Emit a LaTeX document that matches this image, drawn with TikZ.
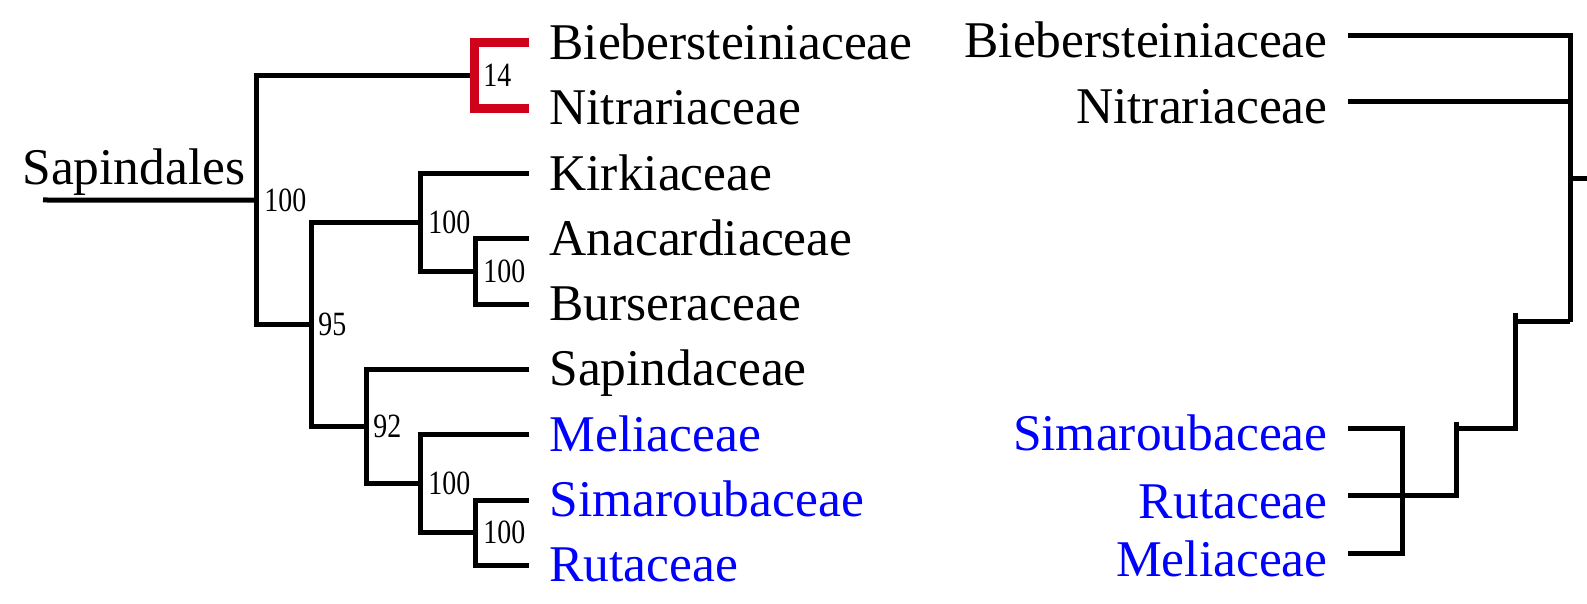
\documentclass[tikz,border=0pt]{standalone}
\usepackage{fontspec}
\setmainfont{Liberation Serif}
\newfontfamily\suppfont[FakeStretch=0.82]{Liberation Serif}
\usetikzlibrary{positioning}
\definecolor{treered}{HTML}{D0021B}
\definecolor{treeblue}{HTML}{0000FF}

\begin{document}
\begin{tikzpicture}[x=0.5pt, y=-0.5pt,
      font=\fontsize{25.75}{30}\selectfont,
      branch/.style={line width=2.5pt},
      redbranch/.style={line width=4.5pt, treered},
      leafL/.style={anchor=west, inner xsep=10pt, inner ysep=0pt, text height=20pt, text depth=3.5pt},
      leafR/.style={anchor=east, inner xsep=10pt, inner ysep=0pt, text height=25.5pt, text depth=3.5pt},
      supp/.style={font=\suppfont\fontsize{17}{17}\selectfont, inner sep=0pt}]

      \useasboundingbox (0,0) rectangle (1587,604);

      % Rows of the left tree
      \def\rowtop{43}     % first leaf
      \def\rowgap{65.3}   % leaf spacing

      % Leaves (left)
      \node[leafL] (Bieb) at (529,{\rowtop}) {Biebersteiniaceae};
      \node[leafL] (Nitr) at (529,{\rowtop+\rowgap}) {Nitrariaceae};
      \node[leafL] (Kirk) at (529,{\rowtop+2*\rowgap}) {Kirkiaceae};
      \node[leafL] (Anac) at (529,{\rowtop+3*\rowgap}) {Anacardiaceae};
      \node[leafL] (Burs) at (529,{\rowtop+4*\rowgap}) {Burseraceae};
      \node[leafL] (Sapi) at (529,{\rowtop+5*\rowgap}) {Sapindaceae};
      \node[leafL, treeblue] (Meli) at (529,{\rowtop+6*\rowgap}) {Meliaceae};
      \node[leafL, treeblue] (Sima) at (529,{\rowtop+7*\rowgap}) {Simaroubaceae};
      \node[leafL, treeblue] (Ruta) at (529,{\rowtop+8*\rowgap}) {Rutaceae};

      % Internal nodes (left)
      \coordinate (n0)  at (256,{\rowtop+2.40625*\rowgap});
      \coordinate (nBN) at (474,{\rowtop+0.5*\rowgap});
      \coordinate (n2)  at (311,{\rowtop+4.3125*\rowgap});
      \coordinate (nK)  at (420,{\rowtop+2.75*\rowgap});
      \coordinate (nAB) at (475,{\rowtop+3.5*\rowgap});
      \coordinate (n92) at (366,{\rowtop+5.875*\rowgap});
      \coordinate (nM)  at (420,{\rowtop+6.75*\rowgap});
      \coordinate (nSR) at (475,{\rowtop+7.5*\rowgap});

      % Root
      \node[anchor=base west, inner sep=0pt] (clade) at (22,185) {Sapindales};
      \coordinate (base) at (43,200);
      \draw[branch] (base) -- (n0);

      % Branches (left)
      \draw[branch] (n0) |- (nBN);
      \draw[branch] (n0) |- (n2);
      \draw[branch] (n2) |- (nK);
      \draw[branch] (n2) |- (n92);
      \draw[branch] (nK) |- (Kirk.west);
      \draw[branch] (nK) |- (nAB);
      \draw[branch] (nAB) |- (Anac.west);
      \draw[branch] (nAB) |- (Burs.west);
      \draw[branch] (n92) |- (Sapi.west);
      \draw[branch] (n92) |- (nM);
      \draw[branch] (nM) |- (Meli.west);
      \draw[branch] (nM) |- (nSR);
      \draw[branch] (nSR) |- (Sima.west);
      \draw[branch] (nSR) |- (Ruta.west);
      \draw[redbranch] (Bieb.west) -| (nBN) |- (Nitr.west);

      % Support values
      \node[supp, right=4pt of n0]  (s0)  {100};
      \node[supp, right=4.5pt of nBN] (sBN) {14};
      \node[supp, right=3.5pt of n2]  (s2)  {95};
      \node[supp, right=4pt of nK]  (sK)  {100};
      \node[supp, right=4pt of nAB] (sAB) {100};
      \node[supp, right=3.5pt of n92] (s92) {92};
      \node[supp, right=4pt of nM]  (sM)  {100};
      \node[supp, right=4pt of nSR] (sSR) {100};

      % Leaves (right)
      \node[leafR] (rBieb) at (1348,36) {Biebersteiniaceae};
      \node[leafR] (rNitr) at (1348,102) {Nitrariaceae};
      \node[leafR, treeblue] (rSima) at (1348,429) {Simaroubaceae};
      \node[leafR, treeblue] (rRuta) at (1348,496) {Rutaceae};
      \node[leafR, treeblue] (rMeli) at (1348,554) {Meliaceae};

      % Internal nodes (right)
      \coordinate (rRoot) at (1570,322);
      \coordinate (rStub) at (1587,179);
      \coordinate (rC) at (1515,313);
      \coordinate (rD) at (1515,429);
      \coordinate (rE) at (1456,422);
      \coordinate (rF) at (1456,496);
      \coordinate (rJ) at (1402,496);

      % Branches (right)
      \draw[branch] (rBieb.east) -| (rRoot);
      \draw[branch] (rNitr.east) -- (rNitr.east -| rRoot);
      \draw[branch] (rStub -| rRoot) -- (rStub);
      \draw[branch] (rRoot) -- (rRoot -| rC);
      \draw[branch] (rC) -- (rD) -- (rD -| rE);
      \draw[branch] (rE) -- (rF) -- (rRuta.east);
      \draw[branch] (rSima.east) -| (rJ) |- (rMeli.east);
   \end{tikzpicture}
\end{document}
